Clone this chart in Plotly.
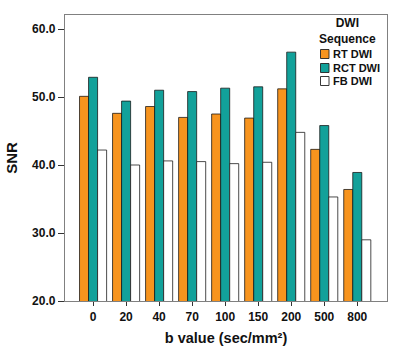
import plotly.graph_objects as go

categories = ["0", "20", "40", "70", "100", "150", "200", "500", "800"]
rt_dwi = [50.1, 47.6, 48.6, 47.0, 47.5, 46.9, 51.2, 42.3, 36.4]
rct_dwi = [52.9, 49.4, 51.0, 50.8, 51.3, 51.5, 56.6, 45.8, 38.9]
fb_dwi = [42.2, 40.0, 40.6, 40.5, 40.2, 40.4, 44.8, 35.3, 29.0]
series_names = ["RT DWI", "RCT DWI", "FB DWI"]
series_colors = ["#F7941E", "#12A19A", "#FFFFFF"]
y_ticks = [20, 30, 40, 50, 60]
y_tick_labels = ["20.0", "30.0", "40.0", "50.0", "60.0"]

W, H = 400, 360
ML, MR, MT, MB = 65, 13, 15, 59
PW, PH = W - ML - MR, H - MT - MB

FONT = "Liberation Sans, Arial, sans-serif"

fig = go.Figure()
for name, vals, col in zip(series_names, [rt_dwi, rct_dwi, fb_dwi], series_colors):
    fig.add_trace(go.Bar(
        x=categories, y=vals, name=name,
        marker=dict(color=col, line=dict(color="rgba(20,20,20,0.85)", width=0.9)),
        showlegend=False,
    ))

def px(x):
    return (x - ML) / PW

def py(y):
    return (H - MB - y) / PH

shapes = []
annotations = []
# Legend title
annotations.append(dict(x=px(347), y=py(31), xref="paper", yref="paper",
                        text="<b>DWI<br>Sequence</b>", showarrow=False,
                        font=dict(family=FONT, size=12, color="#111"),
                        xanchor="center", yanchor="middle", align="center"))
rows = [54, 68, 81]
for name, col, ry in zip(series_names, series_colors, rows):
    shapes.append(dict(type="rect", xref="paper", yref="paper",
                       x0=px(320.5), x1=px(329), y0=py(ry + 4.5), y1=py(ry - 4.5),
                       fillcolor=col, line=dict(color="#222", width=0.9)))
    annotations.append(dict(x=px(331), y=py(ry), xref="paper", yref="paper",
                            text="<b>%s</b>" % name, showarrow=False,
                            font=dict(family=FONT, size=11, color="#111"),
                            xanchor="left", yanchor="middle"))

fig.update_layout(
    width=W, height=H,
    margin=dict(l=ML, r=MR, t=MT, b=MB, autoexpand=False),
    paper_bgcolor="white", plot_bgcolor="white",
    barmode="group", bargap=0.18, bargroupgap=0,
    font=dict(family=FONT, color="#111"),
    shapes=shapes, annotations=annotations,
    xaxis=dict(
        type="category", range=[-0.85, 8.9],
        showline=True, linecolor="#808080", linewidth=1.3, mirror=True,
        ticks="outside", ticklen=4, tickcolor="#333", tickwidth=1,
        tickfont=dict(family=FONT, size=12, color="#111", weight="bold"),
        title=dict(text="<b>b value (sec/mm²)</b>", font=dict(family=FONT, size=14.5, color="#111"), standoff=10),
        showgrid=False, zeroline=False,
    ),
    yaxis=dict(
        range=[20, 62.06],
        tickvals=y_ticks, ticktext=y_tick_labels,
        showline=True, linecolor="#808080", linewidth=1.3, mirror=True,
        ticks="outside", ticklen=6, tickcolor="#333", tickwidth=1,
        tickfont=dict(family=FONT, size=12, color="#111", weight="bold"),
        title=dict(text="<b>SNR</b>", font=dict(family=FONT, size=15, color="#111"), standoff=10),
        showgrid=False, zeroline=False,
    ),
)

fig.write_html("out.html", config={"displayModeBar": False},
               post_script="document.body.style.margin='0';")
